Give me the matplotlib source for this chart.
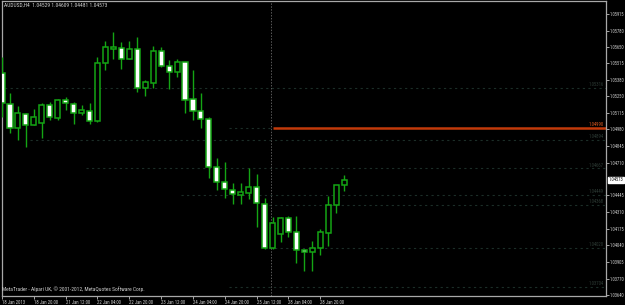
import matplotlib
matplotlib.use("Agg")
import matplotlib.pyplot as plt
from matplotlib import font_manager
import numpy as np

# ---- data (AUDUSD H4) ----
opens  = [1.05437,1.05186,1.04991,1.05105,1.05016,1.05032,1.05178,1.05072,1.05218,1.05186,
          1.05113,1.05129,1.05048,1.05518,1.05631,1.05639,1.05550,1.05631,1.05315,1.05356,
          1.05615,1.05493,1.05445,1.05526,1.05226,1.05129,1.05064,1.04675,1.04554,1.04489,
          1.04449,1.04465,1.04513,1.04376,1.04019,1.04133,1.04262,1.04149,1.04003,1.03987,
          1.04019,1.04141,1.04368,1.04529]
highs  = [1.05566,1.05275,1.05169,1.05113,1.05145,1.05194,1.05202,1.05226,1.05242,1.05202,
          1.05178,1.05194,1.05566,1.05696,1.05769,1.05688,1.05696,1.05728,1.05380,1.05655,
          1.05647,1.05542,1.05550,1.05526,1.05461,1.05275,1.05080,1.04748,1.04716,1.04546,
          1.04546,1.04667,1.04619,1.04424,1.04270,1.04270,1.04278,1.04278,1.04011,1.04076,
          1.04173,1.04440,1.04530,1.04609]
lows   = [1.05080,1.04951,1.04894,1.04837,1.05016,1.04910,1.05056,1.05056,1.05137,1.05024,
          1.05097,1.05024,1.05040,1.05461,1.05550,1.05469,1.05550,1.05283,1.05250,1.05315,
          1.05485,1.05307,1.05404,1.05113,1.05056,1.04991,1.04586,1.04489,1.04424,1.04376,
          1.04376,1.04416,1.04189,1.04011,1.04011,1.04068,1.04108,1.03898,1.03833,1.03833,
          1.03963,1.04035,1.04303,1.04481]
closes = [1.05194,1.04991,1.05113,1.05016,1.05080,1.05178,1.05080,1.05218,1.05194,1.05113,
          1.05137,1.05048,1.05518,1.05647,1.05647,1.05550,1.05631,1.05315,1.05364,1.05615,
          1.05493,1.05445,1.05526,1.05218,1.05129,1.05064,1.04675,1.04554,1.04497,1.04457,
          1.04473,1.04513,1.04384,1.04019,1.04222,1.04262,1.04149,1.04003,1.03987,1.04019,
          1.04149,1.04368,1.04530,1.04573]

time_labels = ["18 Jan 2013", "18 Jan 20:00", "21 Jan 12:00", "22 Jan 04:00", "22 Jan 20:00",
               "23 Jan 12:00", "24 Jan 04:00", "24 Jan 20:00", "25 Jan 12:00", "28 Jan 04:00",
               "28 Jan 20:00"]
time_label_bars = [0, 4, 8, 12, 16, 20, 24, 28, 32, 36, 40]

price_ticks = [1.05915, 1.05780, 1.05650, 1.05515, 1.05380, 1.05250, 1.05115, 1.04980,
               1.04845, 1.04710, 1.04445, 1.04310, 1.04175, 1.04040, 1.03905, 1.03770, 1.03640]
current_price = 1.04573

# horizontal levels: (price, starting bar)
level_prices = [1.05316, 1.04894, 1.04667, 1.04449, 1.04368, 1.04020, 1.03704]
level_starts = [0, 4, 11, 23, 34, 34, 29]
red_level = 1.04990
red_dotted_start = 29
red_start = 34
separator_bar = 34

title_text = "AUDUSD,H4  1.04529 1.04609 1.04481 1.04573"
footer_text = "MetaTrader - Alpari UK, \u00a9 2001-2012, MetaQuotes Software Corp."

# ---- style ----
BG = "#000000"
GREEN = "#14a514"
FRAME = "#a8a8a8"
LEVEL = "#1c2e28"
TXT = "#d0d0d0"

installed = {f.name for f in font_manager.fontManager.ttflist}
narrow = [f for f in ["Liberation Sans Narrow", "DejaVu Sans Condensed", "Roboto Condensed"]
          if f in installed]
FONT = (narrow[:1] or ["Liberation Sans"]) + ["DejaVu Sans"]

W, H = 625, 305
fig = plt.figure(figsize=(W / 100, H / 100), dpi=100, facecolor=BG)
ax = fig.add_axes([2 / W, 9 / H, 604 / W, 295 / H], facecolor=BG)

n = len(opens)
x = np.arange(n)
o = np.array(opens); c = np.array(closes); h = np.array(highs); l = np.array(lows)
bull = c >= o

# wicks
ax.vlines(x, l, h, color=GREEN, linewidth=1.0, zorder=3)
# bodies
bottoms = np.minimum(o, c)
heights = np.maximum(np.abs(c - o), 0.00003)
ax.bar(x[bull], heights[bull], bottom=bottoms[bull], width=0.64,
       facecolor=BG, edgecolor=GREEN, linewidth=1.1, zorder=4)
ax.bar(x[~bull], heights[~bull], bottom=bottoms[~bull], width=0.64,
       facecolor="#ffffff", edgecolor=GREEN, linewidth=1.1, zorder=4)

xmin, xmax = 0.04, 75.9
ymin, ymax = 1.03630, 1.06020

# levels
for p, s in zip(level_prices, level_starts):
    ax.hlines(p, s - 0.5, xmax, colors=LEVEL, linestyles=(0, (2, 3)), linewidth=0.8, zorder=1)
    ax.text(xmax - 0.3, p + 0.00004, f"{p:.5f}", color="#2e3c36", fontsize=3.4,
            family=FONT, ha="right", va="bottom", zorder=2)
ax.hlines(red_level, red_dotted_start - 0.5, red_start, colors=LEVEL,
          linestyles=(0, (2, 3)), linewidth=0.8, zorder=1)
ax.hlines(red_level, red_start, xmax, colors="#c23a0a", linewidth=1.8, zorder=2)
ax.text(xmax - 0.3, red_level + 0.00006, f"{red_level:.5f}", color="#e05a20", fontsize=3.4,
        family=FONT, ha="right", va="bottom", zorder=2)

# period separator
ax.vlines(separator_bar - 0.25, ymin, ymax, colors="#5a5a5a", linestyles=(0, (1.5, 1.5)),
          linewidth=0.7, zorder=1)

ax.set_xlim(xmin, xmax)
ax.set_ylim(ymin, ymax)

for sp in ax.spines.values():
    sp.set_color(FRAME)
    sp.set_linewidth(0.9)

ax.yaxis.tick_right()
ax.set_yticks(price_ticks)
ax.set_yticklabels([f"{p:.5f}" for p in price_ticks], family=FONT, fontsize=3.6, color=TXT)
ax.set_xticks(time_label_bars)
ax.set_xticklabels(time_labels, family=FONT, fontsize=3.4, color=TXT, ha="left")
ax.tick_params(axis="y", colors=FRAME, length=1.8, width=0.7, pad=0.6, labelcolor=TXT)
ax.tick_params(axis="x", colors=FRAME, length=2.5, width=0.7, pad=0.5, labelcolor=TXT)

# current price box
cp = ax.annotate(f"{current_price:.5f}", xy=(1.0, current_price),
                 xycoords=("axes fraction", "data"),
                 xytext=(1.8, 0), textcoords="offset points", va="center", ha="left",
                 fontsize=3.6, family=FONT, color="#000000",
                 bbox=dict(boxstyle="square,pad=0.1", facecolor="#ffffff", edgecolor="#ffffff"),
                 annotation_clip=False, zorder=10)

ax.text(0.003, 0.993, title_text, transform=ax.transAxes, fontsize=4.0, family=FONT,
        color=TXT, ha="left", va="top")
ax.text(0.0, 0.012, footer_text, transform=ax.transAxes, fontsize=4.0, family=FONT,
        color=TXT, ha="left", va="bottom")

# shrink right-hand labels until they fit inside the canvas
fig.canvas.draw()
r = fig.canvas.get_renderer()
for _ in range(20):
    labs = ax.get_yticklabels() + [cp]
    right = max(t.get_window_extent(r).x1 for t in labs)
    if right <= W - 0.5:
        break
    fs = ax.get_yticklabels()[0].get_fontsize() * 0.95
    for t in labs:
        t.set_fontsize(fs)
    fig.canvas.draw()

fig.savefig("out.png", dpi=100, facecolor=BG)
